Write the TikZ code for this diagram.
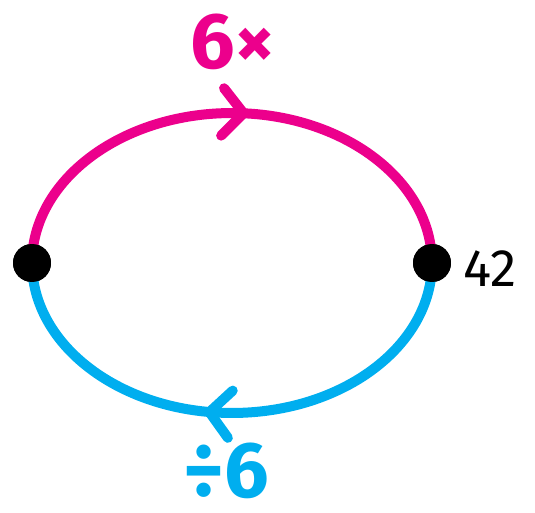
\documentclass[tikz,border=0pt]{standalone}
\usepackage{fontspec}
\setmainfont{Fira Sans}
\usetikzlibrary{arrows.meta,decorations.markings}
\definecolor{mag}{HTML}{EC008C}
\definecolor{cyn}{HTML}{00AEEF}
\tikzset{
  dot/.style={circle,fill=black,minimum size=0.76cm,inner sep=0pt},
  loop/.style={line width=0.2cm,line cap=round,postaction={decorate},
    decoration={markings,mark=at position #1 with {\arrow{Straight Barb[length=0.42cm,width=0.95cm,line cap=round,line join=round]}}}},
  label/.style={font=\fontsize{45}{45}\selectfont\bfseries,anchor=base,inner sep=0pt},
}
\begin{document}
\begin{tikzpicture}[x=0.02cm,y=0.02cm]
\useasboundingbox (0,0) rectangle (535,512);
\node[dot] (l) at (32,249) {};
\node[dot] (r) at (432,249) {};
\draw[loop=0.53,mag] (l.center) arc[start angle=180,end angle=0,x radius=4cm,y radius=3cm];
\draw[loop=0.55,cyn] (r.center) arc[start angle=360,end angle=180,x radius=4cm,y radius=3cm];
\node[dot] at (l) {};
\node[dot] at (r) {};
\node[font=\fontsize{30}{30}\selectfont,anchor=base,inner sep=0pt] (n) at (490,226) {42};
\node[label,text=mag] (t) at (233,444) {6×};
\node[label,text=cyn] (b) at (226,15) {÷6};
\end{tikzpicture}
\end{document}
